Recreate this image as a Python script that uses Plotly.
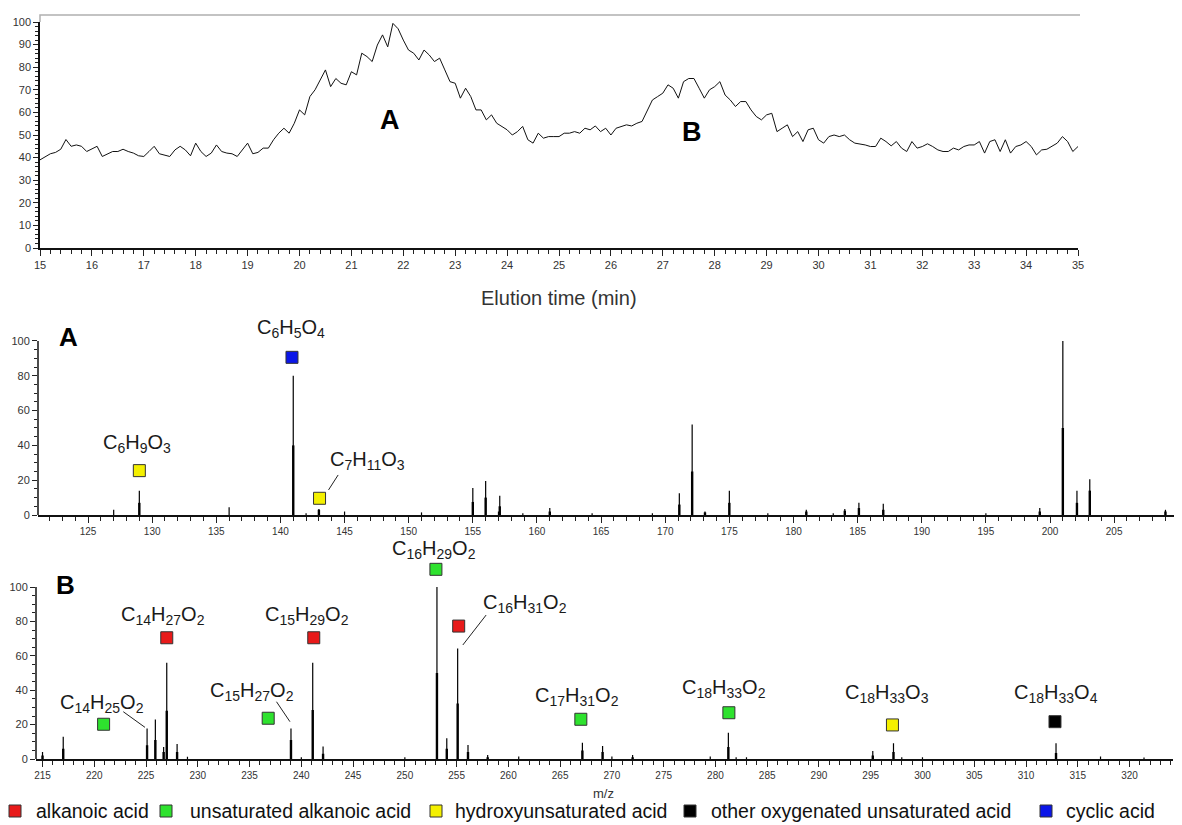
import plotly.graph_objects as go

W, H = 1182, 825          # page size
OFF = 8                   # default page margin of the generated html
FW, FH = W - OFF, H - OFF  # figure size that fits the page


def X(px):
    return (px - OFF) / FW


def Y(py):
    return 1 - (py - OFF) / FH


# ---------------- Chromatogram (top) ----------------
elution_time = [
    15.0, 15.1, 15.2, 15.3, 15.4, 15.5, 15.6, 15.7, 15.8, 15.9,
    16.0, 16.1, 16.2, 16.3, 16.4, 16.5, 16.6, 16.7, 16.8, 16.9,
    17.0, 17.1, 17.2, 17.3, 17.4, 17.5, 17.6, 17.7, 17.8, 17.9,
    18.0, 18.1, 18.2, 18.3, 18.4, 18.5, 18.6, 18.7, 18.8, 18.9,
    19.0, 19.1, 19.2, 19.3, 19.4, 19.5, 19.6, 19.7, 19.8, 19.9,
    20.0, 20.1, 20.2, 20.3, 20.4, 20.5, 20.6, 20.7, 20.8, 20.9,
    21.0, 21.1, 21.2, 21.3, 21.4, 21.5, 21.6, 21.7, 21.8, 21.9,
    22.0, 22.1, 22.2, 22.3, 22.4, 22.5, 22.6, 22.7, 22.8, 22.9,
    23.0, 23.1, 23.2, 23.3, 23.4, 23.5, 23.6, 23.7, 23.8, 23.9,
    24.0, 24.1, 24.2, 24.3, 24.4, 24.5, 24.6, 24.7, 24.8, 24.9,
    25.0, 25.1, 25.2, 25.3, 25.4, 25.5, 25.6, 25.7, 25.8, 25.9,
    26.0, 26.1, 26.2, 26.3, 26.4, 26.5, 26.6, 26.7, 26.8, 26.9,
    27.0, 27.1, 27.2, 27.3, 27.4, 27.5, 27.6, 27.7, 27.8, 27.9,
    28.0, 28.1, 28.2, 28.3, 28.4, 28.5, 28.6, 28.7, 28.8, 28.9,
    29.0, 29.1, 29.2, 29.3, 29.4, 29.5, 29.6, 29.7, 29.8, 29.9,
    30.0, 30.1, 30.2, 30.3, 30.4, 30.5, 30.6, 30.7, 30.8, 30.9,
    31.0, 31.1, 31.2, 31.3, 31.4, 31.5, 31.6, 31.7, 31.8, 31.9,
    32.0, 32.1, 32.2, 32.3, 32.4, 32.5, 32.6, 32.7, 32.8, 32.9,
    33.0, 33.1, 33.2, 33.3, 33.4, 33.5, 33.6, 33.7, 33.8, 33.9,
    34.0, 34.1, 34.2, 34.3, 34.4, 34.5, 34.6, 34.7, 34.8, 34.9,
    35.0,
]
tic_intensity = [
    39, 40.5, 41.7, 42.3, 43.7, 48, 45, 45.6, 45, 42.7,
    44, 45, 40.5, 41.7, 42.7, 42.7, 43.7, 42.7, 42, 40.8,
    40.5, 42.7, 45, 41.7, 41.2, 40.5, 43.4, 45, 43.4, 40.8,
    46.4, 42.7, 40.5, 42, 45.6, 42.7, 42, 41.7, 40.5, 43.4,
    46.4, 41.7, 42.3, 44.2, 44.2, 47.9, 50.8, 53, 50.8, 55.2,
    61.1, 58.9, 67, 70, 74.4, 78.8, 71.4, 75, 72.9, 72.2,
    78, 76.6, 86.2, 84.7, 82.5, 89.8, 94.3, 89, 99.4, 97,
    92, 87.6, 86.2, 83.2, 87.6, 85.4, 82.5, 84, 78.8, 73.6,
    72.9, 66.3, 70.7, 67, 61.1, 61.1, 56.7, 58.9, 55.2, 53.8,
    52.3, 50, 51.5, 53.8, 47.9, 46.4, 50.8, 48.6, 49.3, 49.3,
    49.3, 50.8, 50.8, 51.5, 50.8, 53, 52.3, 54, 51.5, 53,
    50, 53, 53.8, 54.5, 54, 55.2, 56, 60.4, 65.5, 67,
    68.5, 72.2, 70.7, 66.3, 73.6, 75, 75, 70.7, 66.3, 70,
    71.4, 73.6, 67.7, 65.5, 62.6, 64.8, 64.8, 61.1, 58.2, 56.7,
    58.9, 59.6, 51.5, 53, 54.5, 49.3, 51.5, 47.1, 52.3, 53,
    47.9, 46.4, 49.3, 50, 49.3, 50, 47.9, 46.4, 46.1, 45.6,
    44.9, 44.9, 48.6, 47.1, 45.2, 47.1, 44.2, 42.7, 47.1, 44.2,
    44.9, 46.1, 44.9, 43.4, 42.7, 42.7, 44.2, 43.4, 44.9, 45.6,
    45.6, 47.1, 42, 47.1, 47.9, 42.7, 47.9, 42, 44.9, 45.6,
    47.1, 44.9, 41.2, 43.4, 43.7, 44.9, 46.4, 49.3, 47.1, 42.7,
    44.9,
]
peak_region_labels = ["A", "B"]
peak_region_time = [21.74, 27.56]
peak_region_level = [56.6, 51.3]

# ---------------- Mass spectrum A ----------------
mz_A = [127, 129, 136, 141, 142, 143, 145, 151, 155, 156, 157, 157.1, 158.9, 161,
        164.3, 169, 171.1, 172.1, 173.1, 175, 178, 181, 183.1, 184, 185.1, 187,
        195, 199.2, 201, 202.1, 203.1, 209]
peak_A = [3, 14, 4.5, 80, 1, 3.5, 2, 1.5, 15.5, 19.5, 2, 11, 1, 4,
          1, 1, 12.5, 52, 2, 14, 1, 3, 1, 3.5, 7, 6.5,
          1, 4, 100, 14, 20.5, 3]
core_A = [0, 7, 0, 40, 0, 3, 0, 0, 7.5, 10, 0, 5, 0, 2,
          0, 0, 6, 25, 1.5, 7, 0, 2, 0, 2.5, 4, 3,
          0, 2, 50, 7, 14, 2]

# ---------------- Mass spectrum B ----------------
mz_B = [215, 217, 225.1, 225.9, 226.7, 227, 228, 229, 239, 240, 241.1, 242.1, 250,
        253.1, 254.05, 255.1, 256.1, 258, 261, 267.15, 269.1, 270, 272, 279.5,
        281.25, 282, 283, 295.2, 297.2, 298, 300, 312.9, 317.2, 321.4]
peak_B = [4, 13, 17.8, 23, 7, 56, 8.7, 1.3, 17.8, 1, 56, 7.2, 1,
          100, 12, 64.3, 8.1, 2.3, 1.4, 9.5, 7.5, 1.4, 2.3, 1.4,
          15.3, 1, 1, 4.6, 9.2, 1, 1, 9.2, 1.4, 0.8]
core_B = [2, 6, 8, 11, 4, 28, 4, 0, 11, 0, 28.5, 3, 0,
          50, 6, 32.3, 4, 1, 0, 5, 4, 0, 1, 0,
          7, 0, 0, 2, 4, 0, 0, 3.5, 0, 0]

# relative-abundance tick labels of the spectra
spectrum_ticks = [0, 20, 40, 60, 80, 100]
spectrum_minor_ticks = [5, 10, 15, 25, 30, 35, 45, 50, 55, 65, 70, 75, 85, 90, 95]

# ---------------- Compound classes ----------------
category_names = ["alkanoic acid", "unsaturated alkanoic acid", "hydroxyunsaturated acid",
                  "other oxygenated unsaturated acid", "cyclic acid"]
category_colors = ["#e81a1a", "#2ee22e", "#f4f000", "#000000", "#0b16e8"]

# ---------------- Annotated ions ----------------
ion_panel = ["A", "A", "A", "B", "B", "B", "B", "B", "B", "B", "B", "B", "B"]
ion_formula = [
    "C<sub>6</sub>H<sub>9</sub>O<sub>3</sub>",
    "C<sub>6</sub>H<sub>5</sub>O<sub>4</sub>",
    "C<sub>7</sub>H<sub>11</sub>O<sub>3</sub>",
    "C<sub>14</sub>H<sub>25</sub>O<sub>2</sub>",
    "C<sub>14</sub>H<sub>27</sub>O<sub>2</sub>",
    "C<sub>15</sub>H<sub>27</sub>O<sub>2</sub>",
    "C<sub>15</sub>H<sub>29</sub>O<sub>2</sub>",
    "C<sub>16</sub>H<sub>29</sub>O<sub>2</sub>",
    "C<sub>16</sub>H<sub>31</sub>O<sub>2</sub>",
    "C<sub>17</sub>H<sub>31</sub>O<sub>2</sub>",
    "C<sub>18</sub>H<sub>33</sub>O<sub>2</sub>",
    "C<sub>18</sub>H<sub>33</sub>O<sub>3</sub>",
    "C<sub>18</sub>H<sub>33</sub>O<sub>4</sub>",
]
ion_category = [2, 4, 2, 1, 0, 1, 0, 1, 0, 1, 1, 2, 3]
ion_marker_mz = [129.0, 140.9, 143.05, 220.9, 227.0, 236.8, 241.2, 253.0, 255.2, 267.0, 281.3, 297.1, 312.8]
ion_marker_y = [25.5, 90.6, 9.6, 20.2, 70.5, 23.7, 70.5, 110.3, 77.3, 23.1, 26.9, 19.8, 21.7]
ion_label_mz = [128.8, 140.8, 146.8, 220.75, 226.6, 235.2, 240.5, 252.8, 261.6, 266.6, 280.8, 296.6, 312.9]
ion_label_y = [41.0, 107.3, 31.6, 32.5, 83.7, 39.0, 83.7, 122.0, 90.5, 36.2, 41.1, 38.2, 38.2]

leader_panel = ["A", "B", "B", "B"]
leader_mz = [(144.5, 143.75), (222.8, 224.9), (237.6, 238.9), (257.85, 255.6)]
leader_y = [(23.0, 14.4), (27.5, 18.4), (33.3, 21.7), (83.7, 66.3)]

# ---------------- Figure ----------------
FONT = "Liberation Sans, Arial, sans-serif"
axes_of = {"A": ("x2", "y2"), "B": ("x3", "y3")}


def sticks(xs, hs):
    px, py = [], []
    for x, h in zip(xs, hs):
        if h > 0:
            px += [x, x, None]
            py += [0, h, None]
    return px, py


fig = go.Figure()

fig.add_trace(go.Scatter(x=elution_time, y=tic_intensity, mode="lines",
                         line=dict(color="#111111", width=1), xaxis="x", yaxis="y",
                         hoverinfo="skip"))

for panel, mz, pk, core in (("A", mz_A, peak_A, core_A), ("B", mz_B, peak_B, core_B)):
    xa, ya = axes_of[panel]
    sx, sy = sticks(mz, pk)
    fig.add_trace(go.Scatter(x=sx, y=sy, mode="lines", line=dict(color="#000", width=1.2),
                             xaxis=xa, yaxis=ya, hoverinfo="skip"))
    cx, cy = sticks(mz, core)
    fig.add_trace(go.Scatter(x=cx, y=cy, mode="lines", line=dict(color="#000", width=2.4),
                             xaxis=xa, yaxis=ya, hoverinfo="skip"))

for panel, (x0, x1), (y0, y1) in zip(leader_panel, leader_mz, leader_y):
    xa, ya = axes_of[panel]
    fig.add_trace(go.Scatter(x=[x0, x1], y=[y0, y1], mode="lines",
                             line=dict(color="#222", width=1), xaxis=xa, yaxis=ya,
                             hoverinfo="skip"))

for panel in ("A", "B"):
    xa, ya = axes_of[panel]
    idx = [i for i, p in enumerate(ion_panel) if p == panel]
    fig.add_trace(go.Scatter(
        x=[ion_marker_mz[i] for i in idx], y=[ion_marker_y[i] for i in idx],
        mode="markers", cliponaxis=False,
        marker=dict(symbol="square", size=12,
                    color=[category_colors[ion_category[i]] for i in idx],
                    line=dict(color="#333", width=1)),
        xaxis=xa, yaxis=ya, hoverinfo="skip"))

annotations = []
for i, panel in enumerate(ion_panel):
    xa, ya = axes_of[panel]
    annotations.append(dict(x=ion_label_mz[i], y=ion_label_y[i], xref=xa, yref=ya,
                            xanchor="center", yanchor="middle",
                            text=ion_formula[i], showarrow=False,
                            font=dict(family=FONT, size=20, color="#1a1a1a")))

for lab, t, v in zip(peak_region_labels, peak_region_time, peak_region_level):
    annotations.append(dict(x=t, y=v, xref="x", yref="y", text="<b>%s</b>" % lab,
                            xanchor="center", yanchor="middle",
                            showarrow=False, font=dict(family=FONT, size=27, color="#000")))


def paper_text(px, py, text, size, color="#000", xanchor="center"):
    return dict(x=X(px), y=Y(py), xref="paper", yref="paper", text=text,
                xanchor=xanchor, yanchor="middle", showarrow=False,
                font=dict(family=FONT, size=size, color=color))


# panel letters
annotations.append(paper_text(68, 337, "<b>A</b>", 26))
annotations.append(paper_text(65, 585, "<b>B</b>", 26))

# axis titles
annotations.append(paper_text(559, 298, "Elution time (min)", 20, "#333"))
annotations.append(paper_text(603, 793, "m/z", 13, "#333"))

# legend (drawn in page space)
legend_square_px = [15, 166, 436, 690, 1046]
legend_text_px = [34, 188, 453, 709, 1064]
legend_row_py = 811
shapes = []
for name, col, sqx, tx in zip(category_names, category_colors, legend_square_px, legend_text_px):
    shapes.append(dict(type="rect", xref="paper", yref="paper",
                       x0=X(sqx - 6), x1=X(sqx + 6),
                       y0=Y(legend_row_py + 6), y1=Y(legend_row_py - 6),
                       fillcolor=col, line=dict(color="#333", width=1)))
    annotations.append(paper_text(tx, legend_row_py, name, 19.5, "#111", "left"))

# top frame of chromatogram
shapes.append(dict(type="path", xref="paper", yref="paper",
                   path="M %f %f L %f %f L %f %f" % (X(40), Y(22), X(40), Y(15), X(1080), Y(15)),
                   line=dict(color="#b0b0b0", width=1.5)))

# spectra ordinate lines (0 .. 100 only)
for xa, ya in axes_of.values():
    shapes.append(dict(type="line", xref=xa + " domain", yref=ya, x0=0, x1=0, y0=0, y1=100,
                       line=dict(color="#111", width=1.5)))


def xaxis_cfg(domain, rng, dtick, minor, anchor, size):
    return dict(domain=domain, range=rng, dtick=dtick, tick0=0, ticks="outside", ticklen=6,
                tickwidth=1, tickcolor="#222", showline=True, linecolor="#111", linewidth=1.5,
                showgrid=False, zeroline=False, anchor=anchor, automargin=False,
                tickfont=dict(family=FONT, size=size, color="#333"),
                minor=dict(dtick=minor, ticks="outside", ticklen=4, tickcolor="#222",
                           tickwidth=1, showgrid=False))


yaxis_top = dict(domain=[Y(248), Y(22)], range=[0, 100], dtick=10, tick0=0,
                 ticks="outside", ticklen=5, tickwidth=1, tickcolor="#222", showline=True,
                 linecolor="#111", linewidth=1.5, showgrid=False, zeroline=False, anchor="x",
                 automargin=False, tickfont=dict(family=FONT, size=11, color="#333"),
                 minor=dict(dtick=2, ticks="outside", ticklen=3, tickcolor="#222",
                            tickwidth=1, showgrid=False))


def yaxis_spec(domain, rng, anchor):
    return dict(domain=domain, range=rng, tickmode="array", tickvals=spectrum_ticks,
                ticks="outside", ticklen=5, tickwidth=1, tickcolor="#222", showline=False,
                showgrid=False, zeroline=False, anchor=anchor, automargin=False,
                tickfont=dict(family=FONT, size=11, color="#333"),
                minor=dict(tickmode="array", tickvals=spectrum_minor_ticks, ticks="outside",
                           ticklen=3, tickcolor="#222", tickwidth=1, showgrid=False))


fig.update_layout(
    template="none",
    width=FW, height=FH, margin=dict(l=0, r=0, t=0, b=0, pad=0),
    paper_bgcolor="white", plot_bgcolor="white", showlegend=False,
    xaxis=xaxis_cfg([X(40), X(1078)], [15, 35], 1, 0.2, "y", 11),
    yaxis=yaxis_top,
    xaxis2=xaxis_cfg([X(38), X(1177)], [121.1, 209.9], 5, 1, "y2", 10),
    yaxis2=yaxis_spec([Y(515), Y(320.1)], [0, 112], "x2"),
    xaxis3=xaxis_cfg([X(36), X(1173)], [214.37, 324.2], 5, 1, "y3", 10),
    yaxis3=yaxis_spec([Y(759), Y(540.6)], [0, 127], "x3"),
    annotations=annotations, shapes=shapes,
)

fig.write_html("out.html")
